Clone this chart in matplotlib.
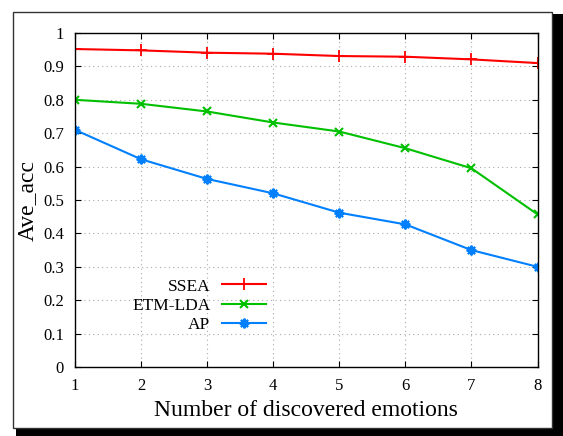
import numpy as np
import matplotlib.pyplot as plt
from matplotlib.patches import Rectangle

plt.rcParams['font.family'] = ['Liberation Serif', 'DejaVu Serif']

emotions = [1, 2, 3, 4, 5, 6, 7, 8]
ssea = [0.952, 0.948, 0.941, 0.938, 0.931, 0.929, 0.921, 0.910]
etm_lda = [0.800, 0.788, 0.765, 0.732, 0.705, 0.655, 0.595, 0.457]
ap = [0.710, 0.622, 0.563, 0.520, 0.462, 0.427, 0.350, 0.300]

fig = plt.figure(figsize=(5.63, 4.36), dpi=100)

# card with drop shadow
fig.patches.append(Rectangle((16 / 563, 0), 547 / 563, 1 - 14 / 436,
                             transform=fig.transFigure, facecolor='black',
                             edgecolor='none', zorder=-10))
fig.patches.append(Rectangle((13 / 563, 8 / 436), 539 / 563, 1 - 20 / 436,
                             transform=fig.transFigure, facecolor='white',
                             edgecolor='#333333', linewidth=1, zorder=-9))

ax = fig.add_axes([75 / 563, 1 - 367 / 436, 462.5 / 563, 334 / 436])
ax.set_facecolor('white')

ax.plot(emotions, ssea, color='#ff0000', marker='+', markersize=9,
        markeredgewidth=1.3, linewidth=1.5, label='SSEA')
ax.plot(emotions, etm_lda, color='#00c000', marker='x', markersize=6,
        markeredgewidth=1.5, linewidth=1.5, label='ETM-LDA')
ax.plot(emotions, ap, color='#0080ff', marker=(8, 2, 0), markersize=7,
        markeredgewidth=1.5, linewidth=1.5, label='AP')

ax.set_xlim(1, 8)
ax.set_ylim(0, 1)
ax.set_xticks(emotions)
yt = np.arange(0, 1.01, 0.1)
ax.set_yticks(yt)
ax.set_yticklabels(['0'] + ['%.1f' % v for v in yt[1:-1]] + ['1'])
ax.grid(True, color='#aaaaaa', linestyle=(0, (1, 3)), linewidth=0.8)
ax.tick_params(direction='in', top=True, right=True, length=4,
               labelsize=12, pad=8)
for s in ax.spines.values():
    s.set_linewidth(1)

ax.set_xlabel('Number of discovered emotions', fontsize=17, labelpad=4)
ax.set_ylabel('Ave_acc', fontsize=17, labelpad=4)

ax.legend(loc='center', bbox_to_anchor=(0.268, 0.184), frameon=False,
          markerfirst=False, fontsize=12.5, handlelength=2.5,
          labelspacing=0.17, handletextpad=0.7)

fig.savefig('out.png', dpi=100)
